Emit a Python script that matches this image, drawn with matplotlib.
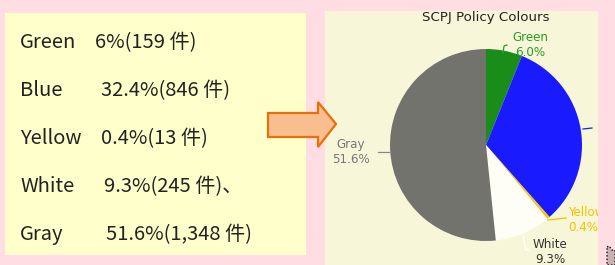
import matplotlib
matplotlib.use("Agg")
import matplotlib.pyplot as plt
from matplotlib.patches import Rectangle, Polygon

# ---- data ----
categories = ["Green", "Blue", "Yellow", "White", "Gray"]
counts = [159, 846, 13, 245, 1348]
pct_labels = ["6.0%", "32.4%", "0.4%", "9.3%", "51.6%"]
left_values = ["6%(159 件)", "32.4%(846 件)", "0.4%(13 件)", "9.3%(245 件)、", "51.6%(1,348 件)"]
colors = ["#1a8c1a", "#1a1aff", "#f5c518", "#fefef6", "#73736e"]
label_colors = ["#2a9a2a", "#1a1aff", "#f5c000", "#333333", "#777777"]
title = "SCPJ Policy Colours"

W, H = 615, 265
fig = plt.figure(figsize=(W / 100, H / 100), dpi=100)
fig.patch.set_facecolor("#ffdde2")

# overlay axes in pixel coordinates (y down)
bg = fig.add_axes([0, 0, 1, 1])
bg.set_xlim(0, W)
bg.set_ylim(H, 0)
bg.axis("off")

bg.add_patch(Rectangle((5, 13), 301, 242, facecolor="#ffffcc", edgecolor="none"))
bg.add_patch(Rectangle((325, 11), 273, 254, facecolor="#f8f6d8", edgecolor="none"))

arrow = [(268, 113), (318, 113), (318, 102), (336, 124), (318, 147), (318, 137), (268, 137)]
bg.add_patch(Polygon(arrow, closed=True, facecolor="#f9be8f", edgecolor="#e8700a", lw=1.6))

# bottom-right dotted shape
bg.add_patch(Polygon([(607, 247), (609, 246), (612, 250), (615, 250), (615, 265), (607, 265)],
                     closed=True, facecolor="#c9b1b1", edgecolor="#111111", lw=1.0,
                     linestyle=(0, (1, 1.5))))

fam = ["Noto Sans CJK JP", "DejaVu Sans"]
name_x = 20
value_x = [95, 101, 101, 104, 106]
base_y = [48, 96, 144, 192, 240]
for name, val, vx, by in zip(categories, left_values, value_x, base_y):
    bg.text(name_x, by, name, fontsize=14.5, family=fam, color="#222222", va="baseline", ha="left")
    bg.text(vx, by, val, fontsize=14.5, family=fam, color="#222222", va="baseline", ha="left")

# pie panel axes: x 325..598, y 11..265 (pixel, y down)
px0, py0, pw, ph = 325, 11, 273, 254
pax = fig.add_axes([px0 / W, (H - py0 - ph) / H, pw / W, ph / H])
pax.set_facecolor("none")
cx, cy, r = 486 - px0, (H - 145), 96
wedges, _ = pax.pie(counts, colors=colors, startangle=90, counterclock=False,
                    center=(cx, cy), radius=r, frame=True,
                    wedgeprops=dict(linewidth=0))
pax.set_aspect("auto")
pax.set_xlim(0, pw)
pax.set_ylim(0, ph)
pax.axis("off")

def P(x, y):
    return (x - px0, H - y)

# labels (positions in pixel coords)
lab_pos = {0: (530, 45, "center"), 2: (568, 220, "left"), 3: (550, 252, "center"), 4: (351, 152, "center")}
for i, (x, y, ha) in lab_pos.items():
    tx, ty = P(x, y)
    pax.text(tx, ty, f"{categories[i]}\n{pct_labels[i]}", fontsize=8.6, color=label_colors[i],
             ha=ha, va="center", linespacing=1.2, family="DejaVu Sans", clip_on=True)

leaders = [
    ([(503, 53), (504, 46), (507, 45)], label_colors[0]),
    ([(583, 129), (592, 128)], label_colors[1]),
    ([(548, 220), (566, 218)], label_colors[2]),
    ([(523, 236), (526, 250), (529, 250)], "#ffffff"),
    ([(378, 152), (389, 152)], "#888888"),
]
for pts, c in leaders:
    xs = [P(*p)[0] for p in pts]
    ys = [P(*p)[1] for p in pts]
    pax.plot(xs, ys, color=c, lw=0.9, clip_on=True)

tx, ty = P(486, 18)
pax.text(tx, ty, title, fontsize=9.6, color="#222222", ha="center", va="center", family="DejaVu Sans")

fig.savefig("out.png", dpi=100, facecolor=fig.get_facecolor())
